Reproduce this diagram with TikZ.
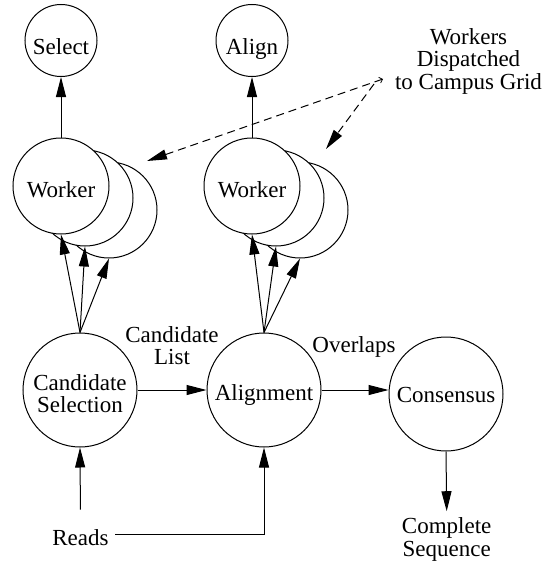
\documentclass[tikz,border=0pt]{standalone}
\usepackage{fontspec}
\setmainfont{Liberation Serif}
\usetikzlibrary{arrows.meta,calc}
\begin{document}
\begin{tikzpicture}[x=1pt,y=-1pt,
  every node/.style={font=\fontsize{23}{22.5}\selectfont},
  proc/.style={circle,draw,line width=1pt,fill=white,inner sep=0pt,minimum size=#1},
  arr/.style={line width=1pt,-{Triangle[length=20pt,width=10pt]}},
  darr/.style={line width=1pt,dash pattern=on 8pt off 5pt,-{Triangle[length=20pt,width=10pt]}},
]
\useasboundingbox (0,0) rectangle (549,562);

% worker stacks (back to front)
\node[proc=96pt] (w1c) at (109,210) {};
\node[proc=96pt] (w1b) at (85,198) {};
\node[proc=96pt,text height=23.4pt,text depth=0pt] (w1a) at (61,186) {Worker};
\node[proc=96pt] (w2c) at (300,210) {};
\node[proc=96pt] (w2b) at (276,198) {};
\node[proc=96pt,text height=23.4pt,text depth=0pt] (w2a) at (252,186) {Worker};

\node[proc=72pt,text height=27pt,text depth=0pt] (sel) at (61,40.5) {Select};
\node[proc=72pt,text height=27pt,text depth=0pt] (ali) at (252,40.5) {Align};

\node[proc=114pt,align=center] (cs) at (80,390) {\rule{0pt}{23.1pt}Candidate\\Selection};
\node[proc=114pt,text height=21.4pt,text depth=0pt] (al) at (264,390) {Alignment};
\node[proc=114pt,text height=16pt,text depth=0pt] (cons) at (446,394) {Consensus};

% labels
\node[align=center] (cl) at (172,345.5) {Candidate\\List};
\node (ov) at (354,347.4) {Overlaps};
\node[inner sep=6.5pt] (reads) at (80.5,538) {Reads};
\node[align=center,inner sep=6.5pt] (comp) at (446.7,539.6) {Complete\\Sequence};
\node[align=center] (disp) at (468.5,61) {Workers\\Dispatched\\to Campus Grid};

% connectors
\draw[arr] (w1a.north) -- (sel.south);
\draw[arr] (w2a.north) -- (ali.south);
\draw[arr] (cs.north) -- (w1a.south);
\draw[arr] (cs.north) -- (w1b.south);
\draw[arr] (cs.north) -- (w1c.south);
\draw[arr] (al.north) -- (w2a.south);
\draw[arr] (al.north) -- (w2b.south);
\draw[arr] (al.north) -- (w2c.south);
\draw[arr] (cs.east) -- (al.west);
\draw[arr] (al.east) -- (al.east -| cons.west);
\draw[arr,shorten <=13.6pt] (reads.north) -- (cs.south);
\draw[arr] ([yshift=4pt]reads.east) -| (al.south);
\draw[arr] (cons.south) -- (comp.north);

% dispatch arrows
\coordinate (ds1) at (383,79);
\coordinate (dt1) at (147,161);
\coordinate (ds2) at (374,84);
\coordinate (dt2) at (326,149);
\draw[line width=1pt,dash pattern=on 8pt off 5pt,
  {Straight Barb[length=3pt,width=6pt,line width=0.8pt]}-{Triangle[length=20pt,width=10pt]}] (ds1) -- (dt1);
\draw[darr] (ds2) -- (dt2);
\end{tikzpicture}
\end{document}
